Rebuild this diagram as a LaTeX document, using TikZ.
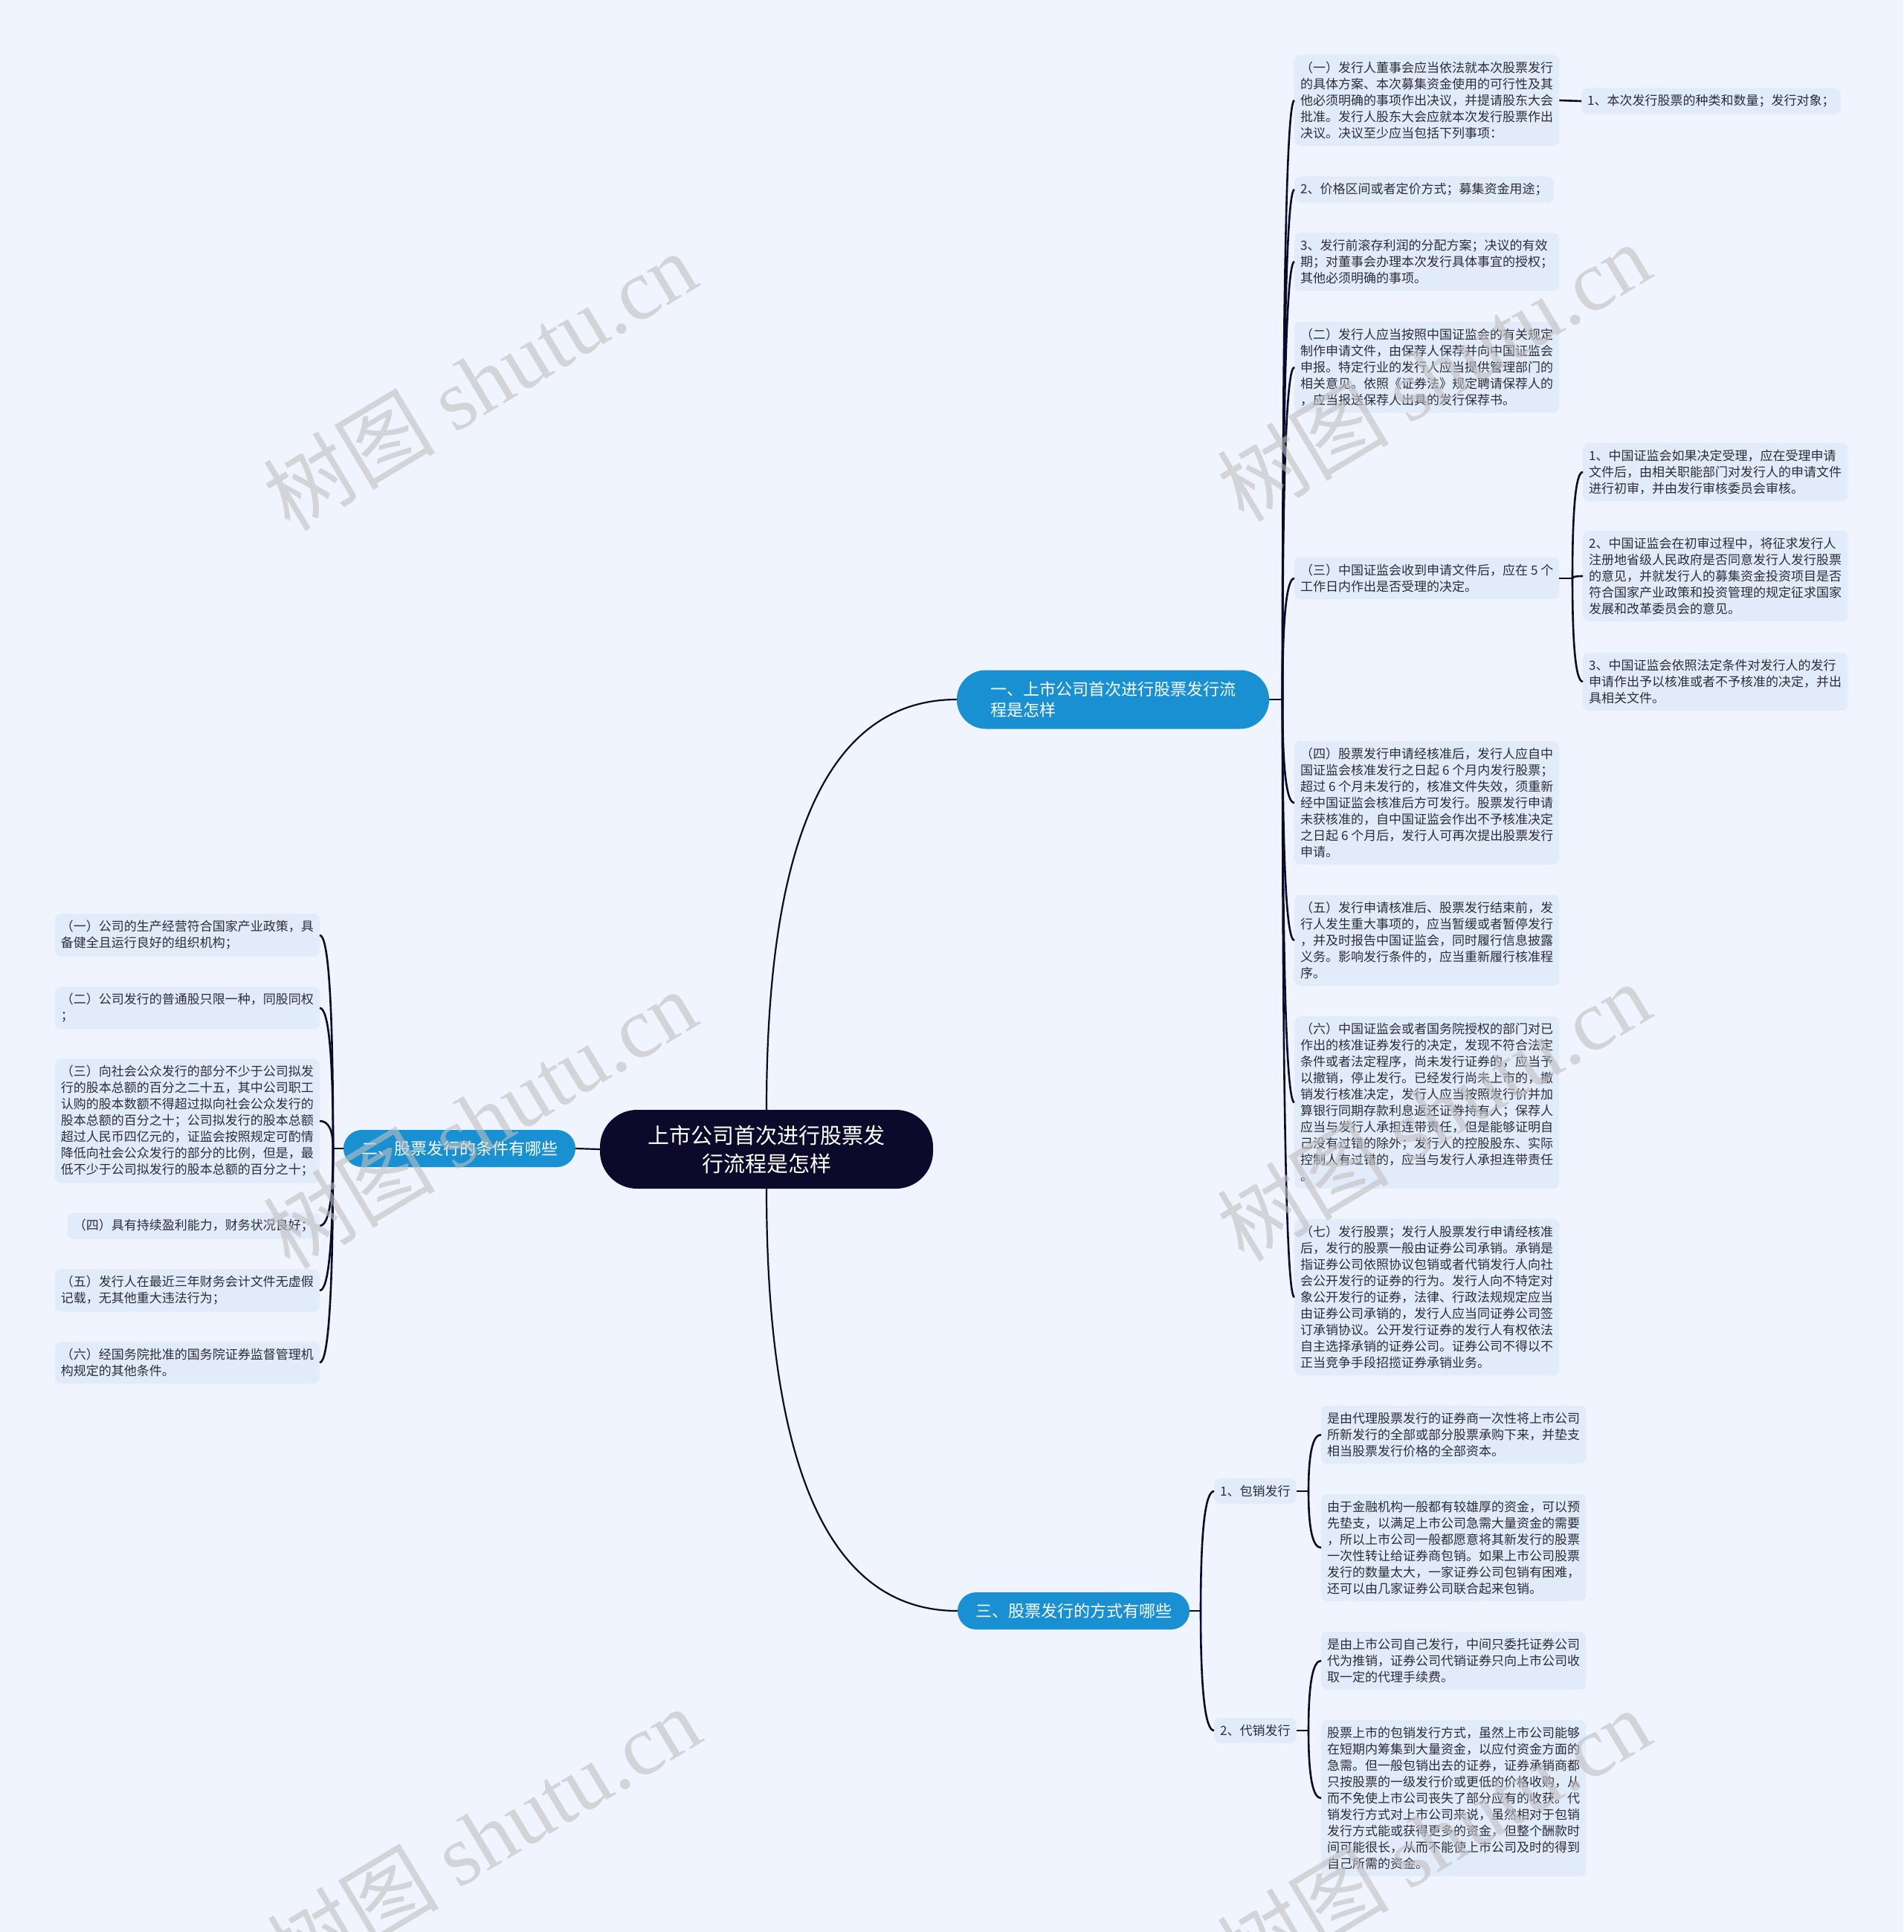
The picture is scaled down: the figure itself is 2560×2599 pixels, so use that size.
\documentclass[tikz,border=0pt]{standalone}
\usepackage{fontspec}
\setmainfont{Noto Sans CJK SC}
\newfontfamily\wmlatin{Liberation Serif}
\usetikzlibrary{calc}

\definecolor{bgcol}{RGB}{239,244,254}
\definecolor{boxcol}{RGB}{226,235,250}
\definecolor{navy}{RGB}{12,10,42}
\definecolor{topiccol}{RGB}{24,144,210}
\definecolor{txtcol}{RGB}{45,45,55}

\begin{document}
\begin{tikzpicture}[x=1pt, y=-1pt,
    root/.style={fill=navy, text=white, rounded corners=50pt,
        minimum width=448pt, minimum height=106pt, align=center,
        font=\fontsize{29pt}{38pt}\selectfont},
    topic/.style={fill=topiccol, text=white, rounded corners=25pt,
        minimum height=50pt, inner xsep=24pt, align=left,
        font=\fontsize{22pt}{28pt}\selectfont},
    leaf/.style={fill=boxcol, text=txtcol, rounded corners=8pt,
        inner xsep=8pt, inner ysep=9pt, align=left,
        font=\fontsize{17pt}{22pt}\selectfont},
    link/.style={draw=navy, line width=2.6pt},
    curvy/.style={to path={.. controls
        ($(\tikztostart)!.667!(\tikztostart |- \tikztotarget)$) and
        ($(\tikztotarget)!.667!(\tikztostart |- \tikztotarget)$) ..
        (\tikztotarget)}},
    wm/.style={text=gray!50, text opacity=.6, rotate=31,
        font=\fontsize{116pt}{116pt}\selectfont}
]
    \fill[bgcol] (0,0) rectangle (2560,2599);
    \useasboundingbox (0,0) rectangle (2560,2599);

    % centre and main topics
    \node[root] (m) at (1031,1546) {上市公司首次进行股票发\\行流程是怎样};
    \node[topic, minimum width=420pt, minimum height=79pt, rounded corners=39pt]
        (b1) at (1497,941) {一、上市公司首次进行股票发行流\\程是怎样};
    \node[topic] (b2) at (618,1545) {二、股票发行的条件有哪些};
    \node[topic] (b3) at (1444,2167) {三、股票发行的方式有哪些};

    \coordinate (h1) at (1725,941);
    \coordinate (h2) at (448,1545);
    \coordinate (h3) at (1615,2167);

    % topic one
    \node[leaf, anchor=west] (c1) at (1741,135) {（一）发行人董事会应当依法就本次股票发行\\的具体方案、本次募集资金使用的可行性及其\\他必须明确的事项作出决议，并提请股东大会\\批准。发行人股东大会应就本次发行股票作出\\决议。决议至少应当包括下列事项：};
    \node[leaf, anchor=west] (c1a) at (2127,136) {1、本次发行股票的种类和数量；发行对象；};
    \node[leaf, anchor=west] (c2) at (1741,255) {2、价格区间或者定价方式；募集资金用途；};
    \node[leaf, anchor=west] (c3) at (1741,352) {3、发行前滚存利润的分配方案；决议的有效\\期；对董事会办理本次发行具体事宜的授权；\\其他必须明确的事项。};
    \node[leaf, anchor=west] (c4) at (1741,494) {（二）发行人应当按照中国证监会的有关规定\\制作申请文件，由保荐人保荐并向中国证监会\\申报。特定行业的发行人应当提供管理部门的\\相关意见。依照《证券法》规定聘请保荐人的\\，应当报送保荐人出具的发行保荐书。};
    \node[leaf, anchor=west] (c5) at (1741,778) {（三）中国证监会收到申请文件后，应在 5 个\\工作日内作出是否受理的决定。};
    \node[leaf, anchor=west] (c5a) at (2129,635) {1、中国证监会如果决定受理，应在受理申请\\文件后，由相关职能部门对发行人的申请文件\\进行初审，并由发行审核委员会审核。};
    \node[leaf, anchor=west] (c5b) at (2129,775) {2、中国证监会在初审过程中，将征求发行人\\注册地省级人民政府是否同意发行人发行股票\\的意见，并就发行人的募集资金投资项目是否\\符合国家产业政策和投资管理的规定征求国家\\发展和改革委员会的意见。};
    \node[leaf, anchor=west] (c5c) at (2129,917) {3、中国证监会依照法定条件对发行人的发行\\申请作出予以核准或者不予核准的决定，并出\\具相关文件。};
    \node[leaf, anchor=west] (c6) at (1741,1080) {（四）股票发行申请经核准后，发行人应自中\\国证监会核准发行之日起 6 个月内发行股票；\\超过 6 个月未发行的，核准文件失效，须重新\\经中国证监会核准后方可发行。股票发行申请\\未获核准的，自中国证监会作出不予核准决定\\之日起 6 个月后，发行人可再次提出股票发行\\申请。};
    \node[leaf, anchor=west] (c7) at (1741,1265) {（五）发行申请核准后、股票发行结束前，发\\行人发生重大事项的，应当暂缓或者暂停发行\\，并及时报告中国证监会，同时履行信息披露\\义务。影响发行条件的，应当重新履行核准程\\序。};
    \node[leaf, anchor=west] (c8) at (1741,1483) {（六）中国证监会或者国务院授权的部门对已\\作出的核准证券发行的决定，发现不符合法定\\条件或者法定程序，尚未发行证券的，应当予\\以撤销，停止发行。已经发行尚未上市的，撤\\销发行核准决定，发行人应当按照发行价并加\\算银行同期存款利息返还证券持有人；保荐人\\应当与发行人承担连带责任，但是能够证明自\\己没有过错的除外；发行人的控股股东、实际\\控制人有过错的，应当与发行人承担连带责任\\。};
    \node[leaf, anchor=west] (c9) at (1741,1745) {（七）发行股票；发行人股票发行申请经核准\\后，发行的股票一般由证券公司承销。承销是\\指证券公司依照协议包销或者代销发行人向社\\会公开发行的证券的行为。发行人向不特定对\\象公开发行的证券，法律、行政法规规定应当\\由证券公司承销的，发行人应当同证券公司签\\订承销协议。公开发行证券的发行人有权依法\\自主选择承销的证券公司。证券公司不得以不\\正当竞争手段招揽证券承销业务。};
    \coordinate (h5) at (2115,778);

    % topic two
    \node[leaf, anchor=east] (e1) at (430,1258) {（一）公司的生产经营符合国家产业政策，具\\备健全且运行良好的组织机构；};
    \node[leaf, anchor=east] (e2) at (430,1356) {（二）公司发行的普通股只限一种，同股同权\\；};
    \node[leaf, anchor=east] (e3) at (430,1508) {（三）向社会公众发行的部分不少于公司拟发\\行的股本总额的百分之二十五，其中公司职工\\认购的股本数额不得超过拟向社会公众发行的\\股本总额的百分之十；公司拟发行的股本总额\\超过人民币四亿元的，证监会按照规定可酌情\\降低向社会公众发行的部分的比例，但是，最\\低不少于公司拟发行的股本总额的百分之十；};
    \node[leaf, anchor=east] (e4) at (430,1649) {（四）具有持续盈利能力，财务状况良好；};
    \node[leaf, anchor=east] (e5) at (430,1736) {（五）发行人在最近三年财务会计文件无虚假\\记载，无其他重大违法行为；};
    \node[leaf, anchor=east] (e6) at (430,1833) {（六）经国务院批准的国务院证券监督管理机\\构规定的其他条件。};

    % topic three
    \node[leaf, anchor=west] (d1) at (1633,2006) {1、包销发行};
    \node[leaf, anchor=west] (d2) at (1633,2328) {2、代销发行};
    \coordinate (hd1) at (1760,2006);
    \coordinate (hd2) at (1760,2328);
    \node[leaf, anchor=west] (d1a) at (1777,1930) {是由代理股票发行的证券商一次性将上市公司\\所新发行的全部或部分股票承购下来，并垫支\\相当股票发行价格的全部资本。};
    \node[leaf, anchor=west] (d1b) at (1777,2082) {由于金融机构一般都有较雄厚的资金，可以预\\先垫支，以满足上市公司急需大量资金的需要\\，所以上市公司一般都愿意将其新发行的股票\\一次性转让给证券商包销。如果上市公司股票\\发行的数量太大，一家证券公司包销有困难，\\还可以由几家证券公司联合起来包销。};
    \node[leaf, anchor=west] (d2a) at (1777,2234) {是由上市公司自己发行，中间只委托证券公司\\代为推销，证券公司代销证券只向上市公司收\\取一定的代理手续费。};
    \node[leaf, anchor=west] (d2b) at (1777,2419) {股票上市的包销发行方式，虽然上市公司能够\\在短期内筹集到大量资金，以应付资金方面的\\急需。但一般包销出去的证券，证券承销商都\\只按股票的一级发行价或更低的价格收购，从\\而不免使上市公司丧失了部分应有的收获。代\\销发行方式对上市公司来说，虽然相对于包销\\发行方式能或获得更多的资金，但整个酬款时\\间可能很长，从而不能使上市公司及时的得到\\自己所需的资金。};

    % connectors
    \draw[link, line width=2.2pt] (m.north) to[curvy] (b1.west);
    \draw[link, line width=2.2pt] (m.south) to[curvy] (b3.west);
    \draw[link, line width=2.2pt] (m.west) -- (b2.east);

    \draw[link] (b1.east) -- (h1);
    \foreach \n in {c1,c2,c3,c4,c5,c6,c7,c8,c9}
        \draw[link] (h1) to[curvy] (\n.west);
    \draw[link] (c1.east) -- (c1a.west);
    \draw[link] (c5.east) -- (h5);
    \foreach \n in {c5a,c5b,c5c}
        \draw[link] (h5) to[curvy] (\n.west);

    \draw[link] (b2.west) -- (h2);
    \foreach \n in {e1,e2,e3,e4,e5,e6}
        \draw[link] (h2) to[curvy] (\n.east);

    \draw[link] (b3.east) -- (h3);
    \draw[link] (h3) to[curvy] (d1.west);
    \draw[link] (h3) to[curvy] (d2.west);
    \draw[link] (d1.east) -- (hd1);
    \draw[link] (d2.east) -- (hd2);
    \draw[link] (hd1) to[curvy] (d1a.west);
    \draw[link] (hd1) to[curvy] (d1b.west);
    \draw[link] (hd2) to[curvy] (d2a.west);
    \draw[link] (hd2) to[curvy] (d2b.west);

    % watermark
    \foreach \wx/\wy in {645/512, 1928/500, 645/1505, 1928/1495, 650/2470, 1928/2472}
        \node[wm] at (\wx,\wy) {树图 {\wmlatin shutu.cn}};
\end{tikzpicture}
\end{document}
